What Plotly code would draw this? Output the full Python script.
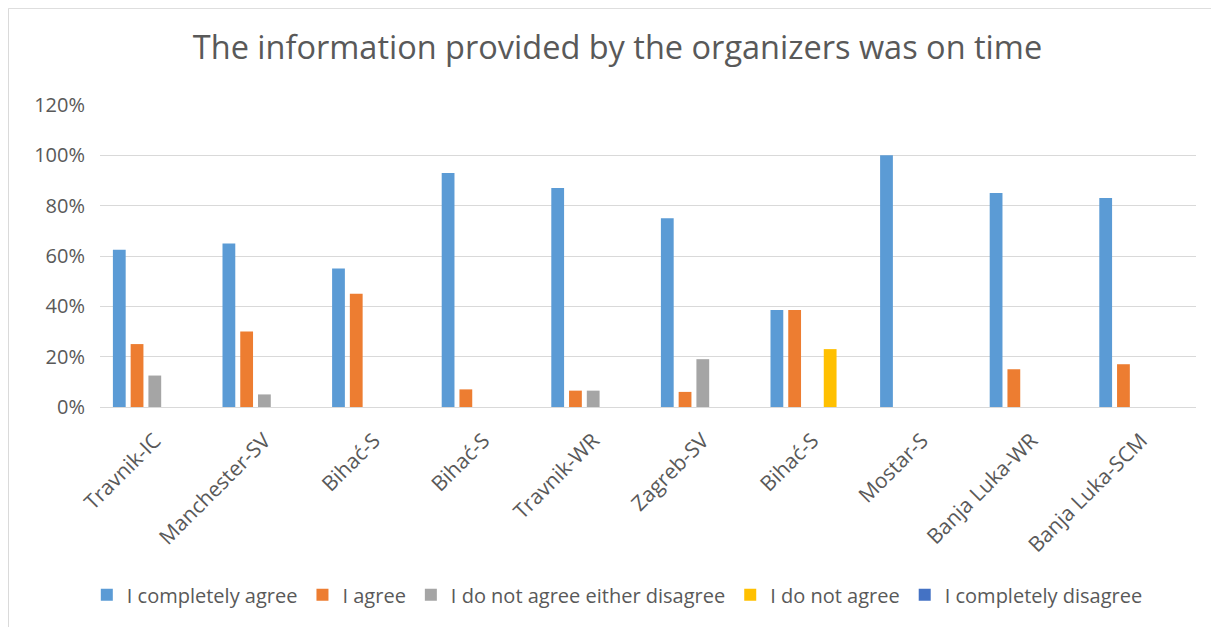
import plotly.graph_objects as go

categories = ["Travnik-IC", "Manchester-SV", "Bihać-S", "Bihać-S", "Travnik-WR",
              "Zagreb-SV", "Bihać-S", "Mostar-S", "Banja Luka-WR", "Banja Luka-SCM"]

completely_agree = [0.625, 0.65, 0.55, 0.93, 0.87, 0.75, 0.385, 1.00, 0.85, 0.83]
agree = [0.25, 0.30, 0.45, 0.07, 0.065, 0.06, 0.385, 0.0, 0.15, 0.17]
neither = [0.125, 0.05, 0.0, 0.0, 0.065, 0.19, 0.0, 0.0, 0.0, 0.0]
not_agree = [0.0, 0.0, 0.0, 0.0, 0.0, 0.0, 0.23, 0.0, 0.0, 0.0]
completely_disagree = [0.0, 0.0, 0.0, 0.0, 0.0, 0.0, 0.0, 0.0, 0.0, 0.0]

series = [
    ("I completely agree", completely_agree, "#5B9BD5"),
    ("I agree", agree, "#ED7D31"),
    ("I do not agree either disagree", neither, "#A5A5A5"),
    ("I do not agree", not_agree, "#FFC000"),
    ("I completely disagree", completely_disagree, "#4472C4"),
]

x_idx = list(range(len(categories)))

fig = go.Figure()
for name, vals, color in series:
    fig.add_trace(go.Bar(
        x=x_idx, y=vals, name=name,
        marker=dict(color=color, line=dict(width=0)),
    ))

font_family = "Open Sans, Liberation Sans, sans-serif"
grey = "#595959"

fig.update_layout(
    width=1219, height=627,
    template="none",
    paper_bgcolor="white", plot_bgcolor="white",
    margin=dict(l=92, r=31, t=97, b=228),
    barmode="group", bargap=0.19, bargroupgap=0.28,
    title=dict(text="The information provided by the organizers was on time",
               x=0.5, xanchor="center", y=1 - 40 / 627, yanchor="middle",
               font=dict(family=font_family, size=32.5, color=grey)),
    font=dict(family=font_family, color=grey),
    xaxis=dict(
        tickmode="array", tickvals=x_idx, ticktext=categories,
        range=[-0.5, len(categories) - 0.5],
        tickangle=-45, tickfont=dict(size=21, color=grey),
        showgrid=False, zeroline=False,
        showline=True, linecolor="#D9D9D9", linewidth=1,
        ticks="", ticklabelstandoff=12,
    ),
    yaxis=dict(
        range=[0, 1.2], dtick=0.2, tickformat=".0%",
        tickfont=dict(size=20, color=grey),
        showgrid=True, gridcolor="#D9D9D9", gridwidth=1,
        zeroline=False, showline=False, ticks="",
        ticklabelstandoff=14,
    ),
    legend=dict(
        orientation="h", x=0.472, xanchor="center", y=-0.622, yanchor="middle",
        font=dict(size=20, color=grey), itemwidth=30,
        traceorder="normal",
    ),
    shapes=[dict(type="rect", xref="paper", yref="paper",
                 x0=-0.0835, x1=1.3, y0=-1.5, y1=1.320,
                 line=dict(color="#D9D9D9", width=1), layer="below")],
)

fig.write_html("out.html")
